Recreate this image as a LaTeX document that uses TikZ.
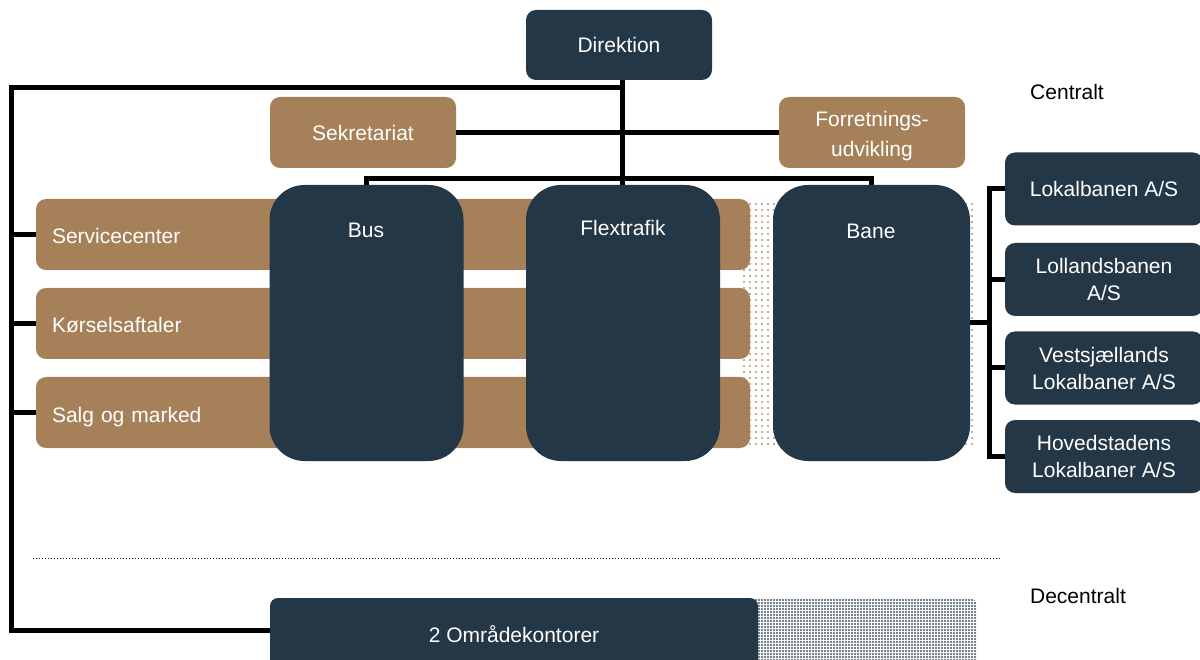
\documentclass[tikz,border=0pt]{standalone}
\usepackage{fontspec}
\setmainfont{Liberation Sans}
\usepackage{xcolor}
\usepackage{tikz}
\usetikzlibrary{positioning,calc,patterns,patterns.meta}

\definecolor{navy}{RGB}{35,55,70}
\definecolor{brownc}{RGB}{166,128,89}

\tikzset{
  navybox/.style={fill=navy, rounded corners=10pt, text=white, align=center,
    font=\fontsize{21}{30}\selectfont, inner sep=0pt},
  brownbox/.style={navybox, fill=brownc},
  unitbox/.style={fill=navy, rounded corners=35pt, minimum width=194pt, minimum height=276pt},
  bar/.style={fill=brownc, rounded corners=10pt, minimum width=714pt, minimum height=71pt,
    text=white, font=\fontsize{21}{25}\selectfont, text width=682pt, align=left, inner xsep=16pt,
    inner ysep=0pt, text height=19pt, text depth=0pt},
  subbox/.style={navybox, font=\fontsize{21}{27}\selectfont, minimum width=198pt, minimum height=73pt},
  unittext/.style={text=white, font=\fontsize{21}{25}\selectfont},
  plaintext/.style={font=\fontsize{21}{25}\selectfont},
  orgline/.style={line width=5pt, black, line join=miter}
}

\begin{document}
\begin{tikzpicture}[x=1pt,y=-1pt]
    \useasboundingbox (0,0) rectangle (1200,660);

    % Dotted backgrounds
    \fill[pattern={Dots[distance=6pt, radius=1.2pt]}, pattern color=brownc!85, rounded corners=6pt]
        (740,199) rectangle (977,448);
    \fill[pattern={Dots[distance=3pt, radius=1.1pt]}, pattern color=navy!85, rounded corners=8pt]
        (740,598) rectangle (977,672);

    % Staff bars
    \node (service) [bar] at (393,234.5) {Servicecenter};
    \node (koersel) [bar] at (393,323.5) {Kørselsaftaler};
    \node (salg) [bar] at (393,412.5) {Salg og marked};

    % Top level
    \node (direktion) [navybox, minimum width=186pt, minimum height=70pt] at (619,45) {Direktion};
    \node (sekretariat) [brownbox, minimum width=186pt, minimum height=71pt] at (363,132.5) {Sekretariat};
    \node (forretning) [brownbox, minimum width=186pt, minimum height=71pt] at (872,132.5)
        {\rule{0pt}{23pt}Forretnings-\\udvikling};

    % Units
    \node (bus) [unitbox] at (366.5,323) {};
    \node (flex) [unitbox] at (623,323) {};
    \node (bane) [unitbox, minimum width=197pt] at (871.5,323) {};
    \node (bustxt) [unittext] at (366,230) {Bus};
    \node (flextxt) [unittext] at (623,228) {Flextrafik};
    \node (banetxt) [unittext] at (871,231) {Bane};

    % Rail companies
    \node (lokal) [subbox] at (1104,189) {Lokalbanen A/S};
    \node (lolland) [subbox] at (1104,279.5) {Lollandsbanen\\A/S};
    \node (vest) [subbox] at (1104,368) {Vestsjællands\\Lokalbaner A/S};
    \node (hoved) [subbox] at (1104,456.5) {Hovedstadens\\Lokalbaner A/S};

    % Regional offices
    \node (omraade) [navybox, minimum width=488pt, minimum height=72pt, rounded corners=8pt] at (514,634) {2 Områdekontorer};

    % Labels
    \node (central) [plaintext] at (1067,92) {Centralt};
    \node (decentral) [plaintext] at (1078,596) {Decentralt};
    \draw[dotted, line width=1pt] (33,558) -- (1000,558);

    % Connectors
    \coordinate (lt) at (11,88);
    \coordinate (lb) at (11,630);
    \coordinate (rb) at (989,323);
    \coordinate (dir) at (622,80);
    \draw[orgline] (dir) -- (dir |- flex.north);
    \draw[orgline] (dir |- lt) -- (lt) -- (lb) -- (omraade.west |- lb);
    \foreach \b in {service,koersel,salg}
        \draw[orgline] (lt |- \b.west) -- (\b.west);
    \draw[orgline] (sekretariat.east) -- (forretning.west);
    \draw[orgline] (bus.north) -- ++(0,-6) -| (bane.north);
    \draw[orgline] (bane.east) -- (rb);
    \draw[orgline] (lokal.west) -- (rb |- lokal.west) -- (rb |- hoved.west) -- (hoved.west);
    \draw[orgline] (rb |- lolland.west) -- (lolland.west);
    \draw[orgline] (rb |- vest.west) -- (vest.west);
\end{tikzpicture}
\end{document}
